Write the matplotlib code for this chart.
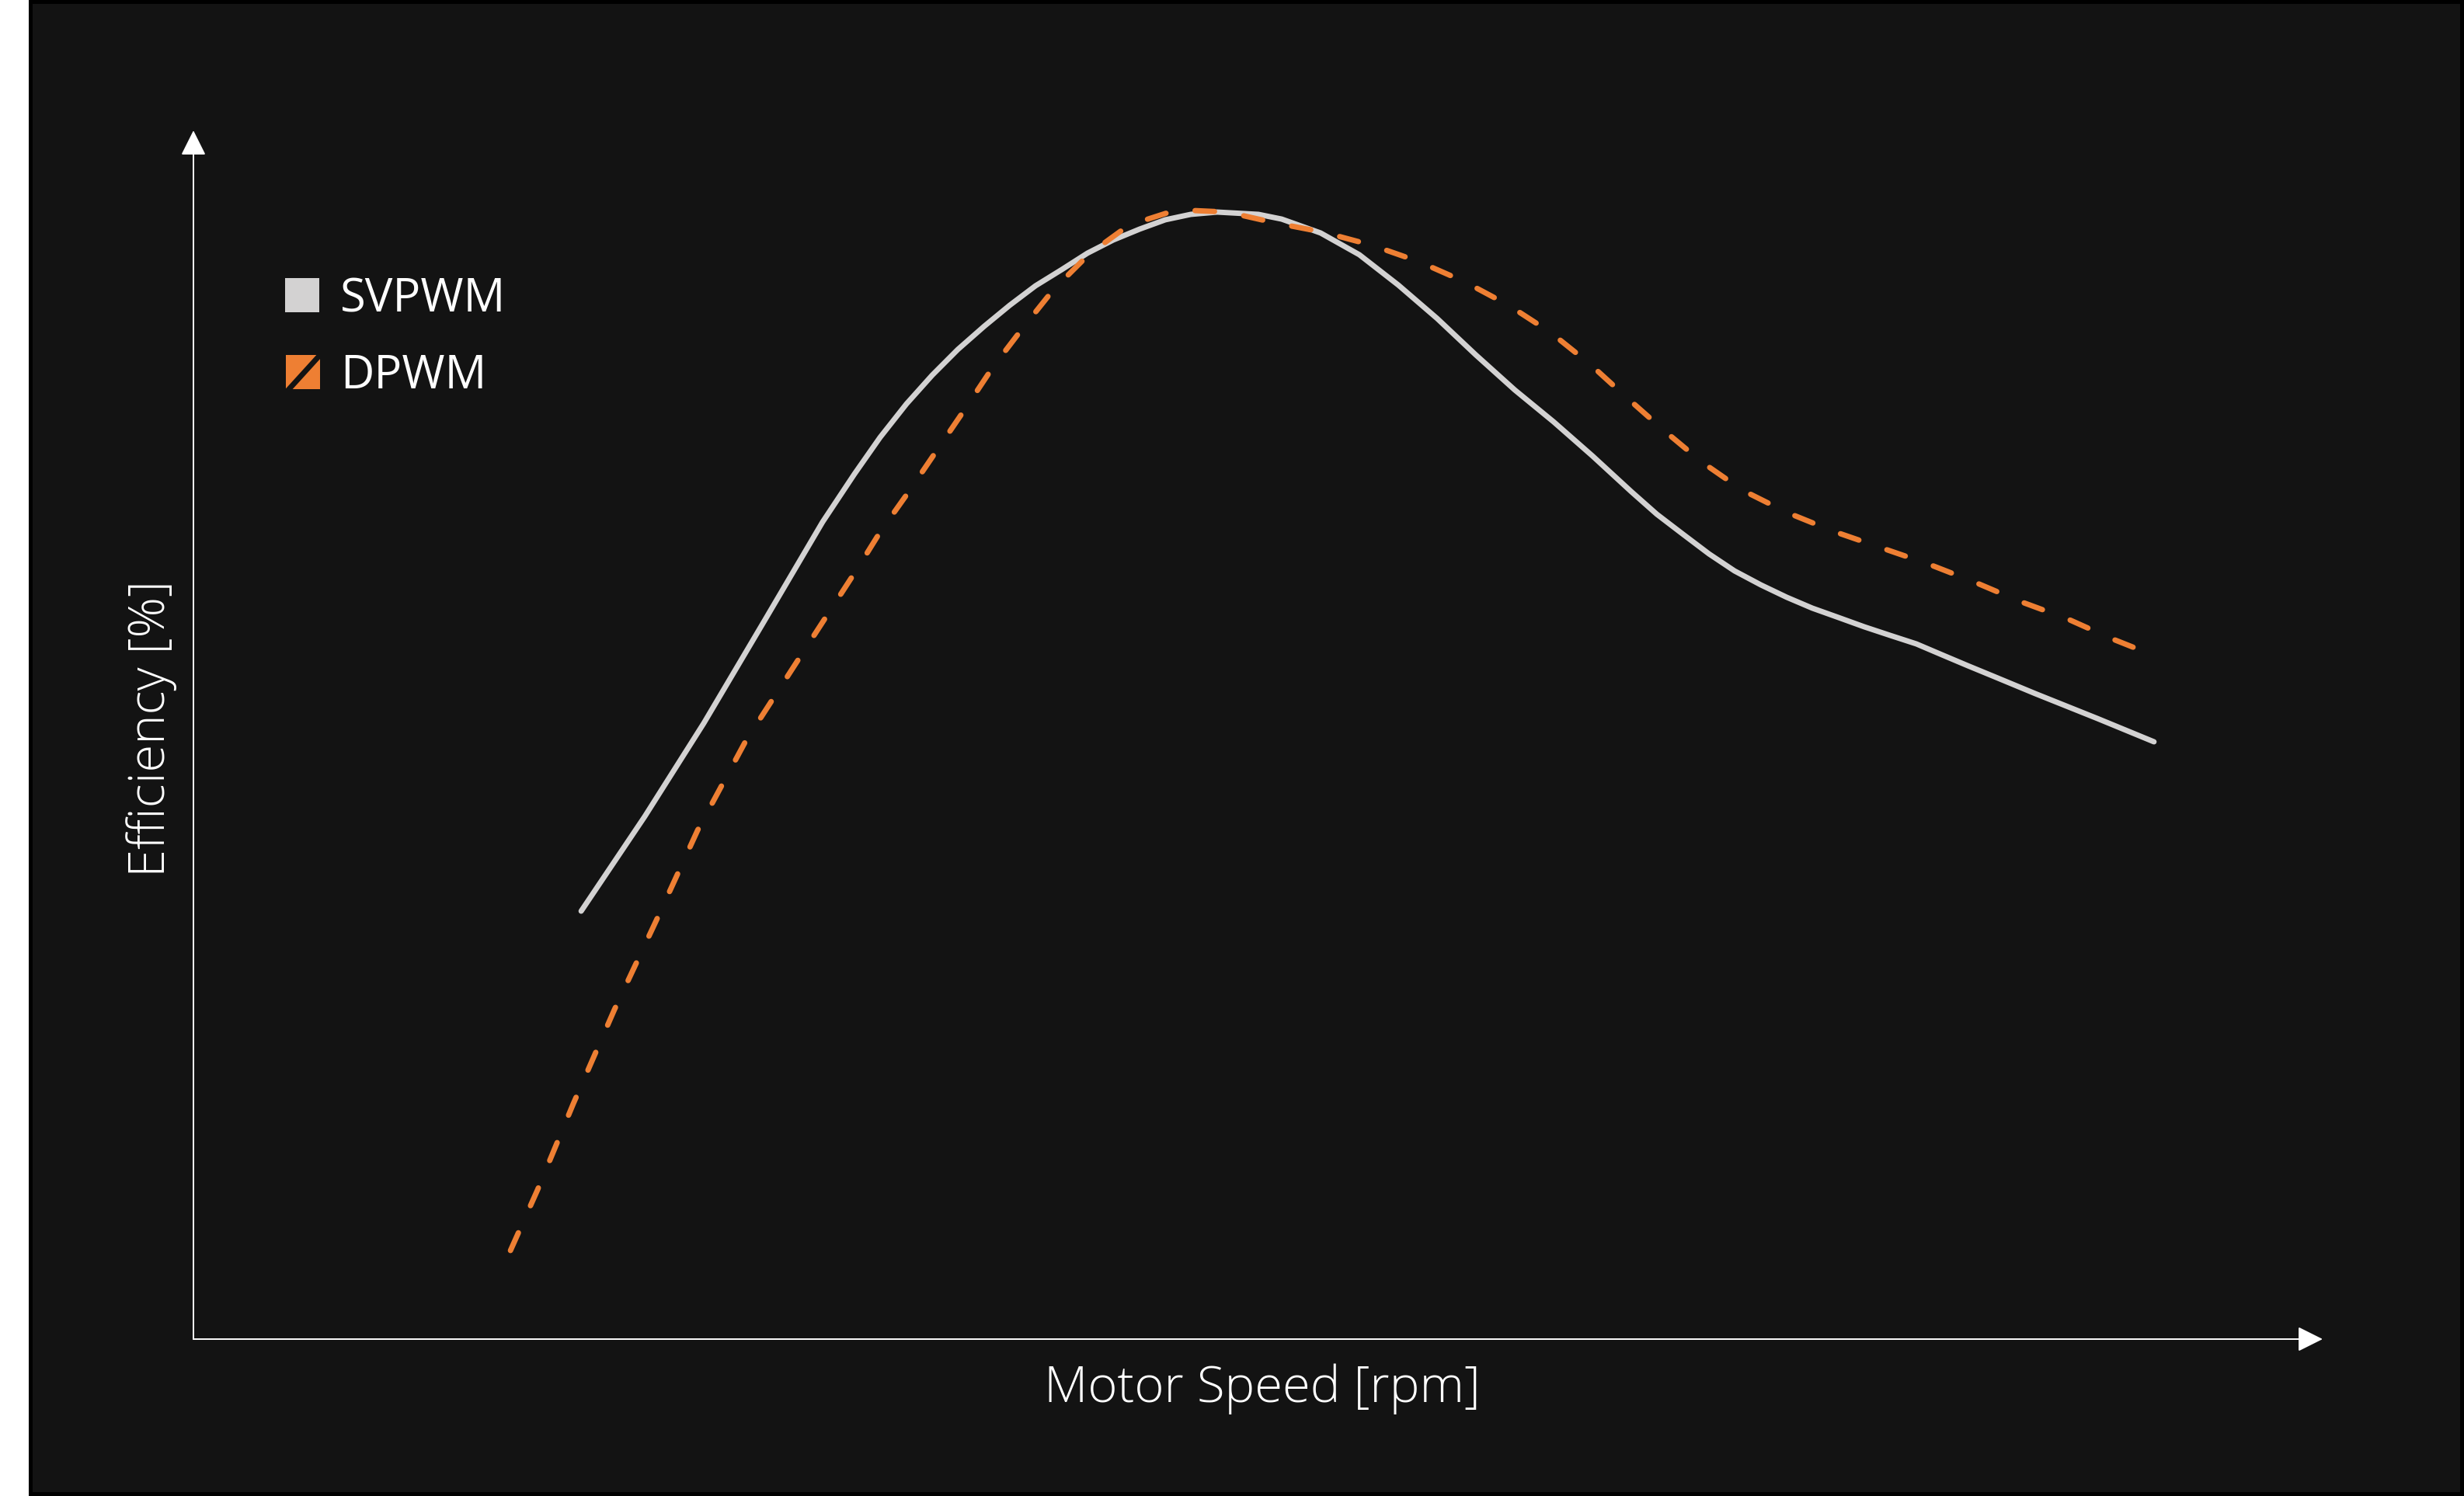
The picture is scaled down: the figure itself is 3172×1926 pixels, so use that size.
import numpy as np
import matplotlib
matplotlib.use("Agg")
import matplotlib.pyplot as plt
from matplotlib.patches import Rectangle

# motor speed (arbitrary units, axis has no ticks) and efficiency (arbitrary units)
svpwm_speed = [18.21, 21.20, 23.97, 26.78, 29.55, 31.05, 32.25, 33.49, 34.70, 35.90,
               37.14, 38.34, 39.55, 40.79, 41.99, 43.20, 44.44, 45.64, 46.84, 48.08,
               50.02, 51.11, 52.94, 54.76, 56.59, 58.41, 60.23, 62.06, 63.88, 65.71,
               67.53, 68.73, 69.97, 71.18, 72.38, 73.62, 74.83, 76.03, 77.27, 78.48,
               79.68, 80.92, 82.12, 83.33, 84.57, 86.50, 89.42, 92.08]
svpwm_eff = [35.41, 43.25, 50.96, 59.32, 67.61, 71.59, 74.61, 77.38, 79.76, 81.88,
             83.80, 85.54, 87.15, 88.50, 89.85, 90.94, 91.84, 92.61, 93.06, 93.25,
             93.06, 92.67, 91.52, 89.72, 87.21, 84.45, 81.43, 78.53, 75.90, 73.07,
             70.12, 68.25, 66.58, 64.97, 63.56, 62.40, 61.38, 60.48, 59.70, 58.93,
             58.23, 57.52, 56.62, 55.72, 54.82, 53.41, 51.35, 49.42]

dpwm_speed = [14.89, 16.16, 17.84, 19.77, 21.74, 23.68, 25.94, 28.46, 31.23, 32.25,
              33.60, 34.91, 36.23, 37.54, 38.93, 40.39, 42.07, 43.93, 46.19, 48.56,
              50.82, 53.08, 55.38, 57.57, 59.72, 61.77, 63.74, 65.56, 67.28, 69.06,
              70.85, 72.75, 74.86, 77.02, 79.24, 81.47, 83.62, 85.77, 88.03, 90.07, 92.08]
dpwm_eff = [7.33, 12.34, 19.47, 27.25, 34.64, 42.10, 49.49, 56.36, 63.88, 66.77,
            70.12, 73.52, 76.93, 80.40, 83.61, 86.83, 89.78, 92.16, 93.44, 93.25,
            92.35, 91.58, 90.49, 89.14, 87.47, 85.54, 83.29, 80.72, 77.96, 75.19,
            72.56, 70.24, 68.38, 66.84, 65.49, 64.14, 62.66, 61.05, 59.58, 57.97, 56.56]

labels = ["SVPWM", "DPWM"]
grey = "#d3d2d2"
orange = "#ee7f33"
bg = "#131313"

W, H = 3172, 1926
fig = plt.figure(figsize=(W / 100, H / 100), dpi=100, facecolor="white")

# black frame + dark panel (behind the axes)
fig.patches.append(Rectangle((37 / W, 0), 1 - 37 / W, 1, transform=fig.transFigure,
                             facecolor="black", edgecolor="none", zorder=-3))
fig.patches.append(Rectangle((42 / W, 5 / H), (3167 - 42) / W, (1921 - 5) / H,
                             transform=fig.transFigure, facecolor=bg, edgecolor="none", zorder=-2))

left, right = 249 / W, 2990 / W
bottom, top = 1 - 1724 / H, 1 - 168 / H
ax = fig.add_axes([left, bottom, right - left, top - bottom])
ax.set_facecolor("none")
ax.set_xlim(0, 100)
ax.set_ylim(0, 100)
for s in ax.spines.values():
    s.set_visible(False)
ax.set_xticks([])
ax.set_yticks([])

arrow = dict(arrowstyle="-|>,head_length=1,head_width=0.5", mutation_scale=20,
             color="white", lw=1.4, shrinkA=0, shrinkB=0)
ax.annotate("", xy=(0, 1), xytext=(0, 0), xycoords="axes fraction", arrowprops=arrow,
            annotation_clip=False)
ax.annotate("", xy=(1, 0), xytext=(0, 0), xycoords="axes fraction", arrowprops=arrow,
            annotation_clip=False)

ax.plot(svpwm_speed, svpwm_eff, color=grey, lw=5, solid_capstyle="round",
        solid_joinstyle="round", clip_on=False)
ax.plot(dpwm_speed, dpwm_eff, color=orange, lw=5, dashes=(3.6, 5.5),
        dash_capstyle="round", dash_joinstyle="round", clip_on=False)

font = "Open Sans"
fig.text(1625 / W, 1 - 1788 / H, "Motor Speed [rpm]", color="white", fontsize=47,
         family=font, weight="light", ha="center", va="center")
fig.text(195 / W, 1 - 938 / H, "Efficiency [%]", color="white", fontsize=47,
         family=font, weight="light", ha="center", va="center", rotation=90)

# legend
sq = 44
fig.patches.append(Rectangle((367 / W, 1 - 402 / H), sq / W, sq / H, transform=fig.transFigure,
                             facecolor=grey, edgecolor="none", zorder=2))
fig.patches.append(Rectangle((368 / W, 1 - 501 / H), sq / W, sq / H, transform=fig.transFigure,
                             facecolor=orange, edgecolor="none", zorder=2))
fig.lines.append(plt.Line2D([372 / W, 412 / W], [1 - 501 / H, 1 - 457 / H],
                            transform=fig.transFigure, color=bg, lw=5, zorder=3))
fig.text(438 / W, 1 - 385 / H, labels[0], color="white", fontsize=43, family=font,
         ha="left", va="center")
fig.text(438 / W, 1 - 484 / H, labels[1], color="white", fontsize=43, family=font,
         ha="left", va="center")

fig.savefig("out.png", dpi=100, facecolor=fig.get_facecolor())
